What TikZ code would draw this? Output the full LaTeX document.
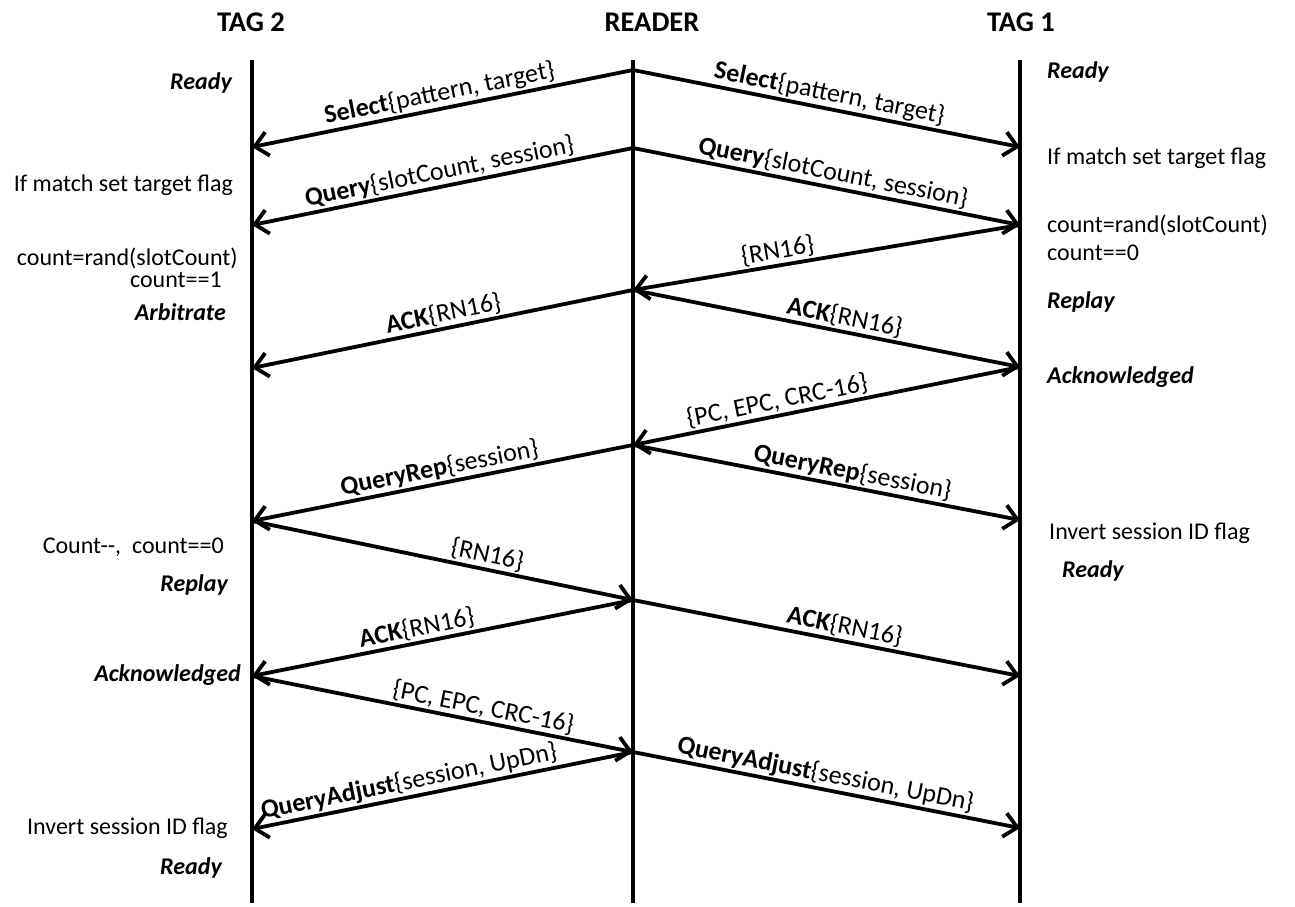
\documentclass[tikz,border=0pt]{standalone}
\usepackage{fontspec}
\setmainfont{Carlito}
\usetikzlibrary{arrows.meta}
\begin{document}
\begin{tikzpicture}[x=1pt,y=-1pt,
  lifeline/.style={line width=3.8pt},
  msg/.style={line width=3.8pt,-{Straight Barb[length=13pt,width=24pt]}},
  msglbl/.style={sloped,above,font=\fontsize{26}{30}\selectfont,inner sep=1.5pt},
  sidetxt/.style={font=\fontsize{24}{28}\selectfont,inner sep=0pt},
  stt/.style={font=\fontsize{24}{28}\selectfont\bfseries\itshape,inner sep=0pt},
  hdr/.style={font=\fontsize{28.5}{33}\selectfont\bfseries,inner sep=0pt}]
\useasboundingbox (0,0) rectangle (1295,906);
\fill[white] (0,0) rectangle (1295,906);

% headers
\node[hdr] (h2) at (251,22) {TAG 2};
\node[hdr] (hr) at (652,22) {READER};
\node[hdr] (h1) at (1021,22) {TAG 1};

% lifelines
\coordinate (t2top) at (252,60);  \coordinate (t2bot) at (252,903);
\coordinate (rtop) at (633,60);   \coordinate (rbot) at (633,903);
\coordinate (t1top) at (1020,60); \coordinate (t1bot) at (1020,903);
\draw[lifeline] (t2top) -- (t2bot);
\draw[lifeline] (rtop) -- (rbot);
\draw[lifeline] (t1top) -- (t1bot);

% event points
\coordinate (r1) at (633,70);  \coordinate (r2) at (633,148);
\coordinate (r3) at (633,290); \coordinate (r4) at (633,445);
\coordinate (r5) at (633,600); \coordinate (r6) at (633,752);
\coordinate (a1) at (252,147); \coordinate (a2) at (252,225);
\coordinate (a3) at (252,368); \coordinate (a4) at (252,521);
\coordinate (a5) at (252,676); \coordinate (a6) at (252,829);
\coordinate (b1) at (1020,147); \coordinate (b2) at (1020,225);
\coordinate (b3) at (1020,367); \coordinate (b4) at (1020,520);
\coordinate (b5) at (1020,676); \coordinate (b6) at (1020,828);

% messages
\draw[msg] (r1) -- node[msglbl,pos=0.5] (m1) {\textbf{Select}\{pattern, target\}} (a1);
\draw[msg] (r1) -- node[msglbl,pos=0.5] (m2) {\textbf{Select}\{pattern, target\}} (b1);
\draw[msg] (r2) -- node[msglbl,pos=0.5] (m3) {\textbf{Query}\{slotCount, session\}} (a2);
\draw[msg] (r2) -- node[msglbl,pos=0.51] (m4) {\textbf{Query}\{slotCount, session\}} (b2);
\draw[msg] (b2) -- node[msglbl,pos=0.62] (m5) {\{RN16\}} (r3);
\draw[msg] (r3) -- node[msglbl,pos=0.49] (m6) {\textbf{ACK}\{RN16\}} (a3);
\draw[msg] (r3) -- node[msglbl,pos=0.54] (m7) {\textbf{ACK}\{RN16\}} (b3);
\draw[msg] (b3) -- node[msglbl,pos=0.62] (m8) {\{PC, EPC, CRC-16\}} (r4);
\draw[msg] (r4) -- node[msglbl,pos=0.5] (m9) {\textbf{QueryRep}\{session\}} (a4);
\draw[msg] (r4) -- node[msglbl,pos=0.56] (m10) {\textbf{QueryRep}\{session\}} (b4);
\draw[msg] (a4) -- node[msglbl,pos=0.61] (m11) {\{RN16\}} (r5);
\draw[msg] (r5) -- node[msglbl,pos=0.56] (m12) {\textbf{ACK}\{RN16\}} (a5);
\draw[msg] (r5) -- node[msglbl,pos=0.54] (m13) {\textbf{ACK}\{RN16\}} (b5);
\draw[msg] (a5) -- node[msglbl,pos=0.6] (m14) {\{PC, EPC, CRC-16\}} (r6);
\draw[msg] (r6) -- node[msglbl,pos=0.58] (m15) {\textbf{QueryAdjust}\{session, UpDn\}} (a6);
\draw[msg] (r6) -- node[msglbl,pos=0.49] (m16) {\textbf{QueryAdjust}\{session, UpDn\}} (b6);

% TAG 2 side
\node[stt,anchor=east] (l1) at (232,83) {Ready};
\node[sidetxt,anchor=east] (l2) at (233,185) {If match set target flag};
\node[sidetxt,anchor=east] (l3) at (238,258) {count=rand(slotCount)};
\node[sidetxt,anchor=east] (l4) at (222,280) {count==1};
\node[stt,anchor=east] (l5) at (226,312) {Arbitrate};
\node[sidetxt,anchor=east] (l6) at (224,547) {Count-{}-, \ count==0};
\node[stt,anchor=east] (l7) at (228,585) {Replay};
\node[stt,anchor=east] (l8) at (241,675) {Acknowledged};
\node[sidetxt,anchor=east] (l9) at (228,828) {Invert session ID flag};
\node[stt,anchor=east] (l10) at (222,868) {Ready};

% TAG 1 side
\node[stt,anchor=west] (q1) at (1047,72) {Ready};
\node[sidetxt,anchor=west] (q2) at (1047,158) {If match set target flag};
\node[sidetxt,anchor=west] (q3) at (1047,225) {count=rand(slotCount)};
\node[sidetxt,anchor=west] (q4) at (1047,253) {count==0};
\node[stt,anchor=west] (q5) at (1047,302) {Replay};
\node[stt,anchor=west] (q6) at (1047,377) {Acknowledged};
\node[sidetxt,anchor=west] (q7) at (1049,533) {Invert session ID flag};
\node[stt,anchor=west] (q8) at (1062,571) {Ready};
\end{tikzpicture}
\end{document}
